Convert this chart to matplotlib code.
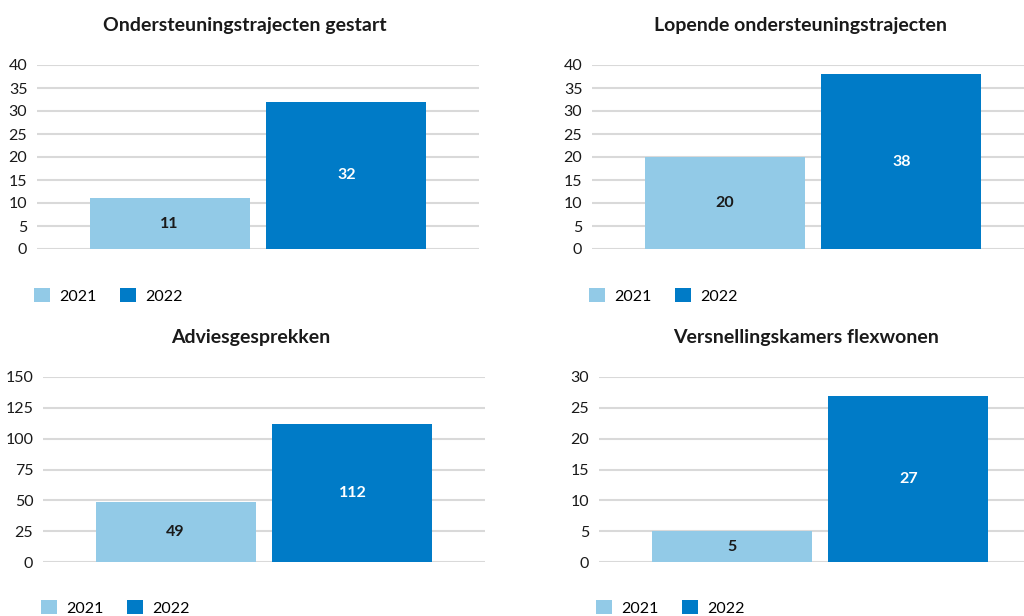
import matplotlib
matplotlib.use("Agg")
import matplotlib.pyplot as plt

# Data per panel
titles = ["Ondersteuningstrajecten gestart", "Lopende ondersteuningstrajecten",
          "Adviesgesprekken", "Versnellingskamers flexwonen"]
years = ["2021", "2022"]
values = [[11, 32], [20, 38], [49, 112], [5, 27]]
yticks = [list(range(0, 41, 5)), list(range(0, 41, 5)),
          list(range(0, 151, 25)), list(range(0, 31, 5))]

colors = ["#92CAE7", "#007BC7"]
label_colors = ["#1a1a1a", "#ffffff"]
grid_color = "#D9D9D9"

plt.rcParams['font.family'] = ['Lato', 'DejaVu Sans']

W, H = 1024, 616
fig = plt.figure(figsize=(W / 100, H / 100), dpi=100)

# pixel layout: (axes left, y of zero line, y of top line, title x, title y, legend x, legend y)
layout = [
    (37, 249, 65, 245, 25, 34, 296),
    (592, 249, 65, 800, 25, 589, 296),
    (43, 562, 377, 251, 337, 41, 608),
    (599, 562, 377, 806, 337, 596, 608),
]
ax_w = 442

for i in range(4):
    left, y0, ytop, tx, ty, lx, ly = layout[i]
    ax = fig.add_axes([left / W, (H - y0) / H, ax_w / W, (y0 - ytop) / H])
    bars = ax.bar([0, 1], values[i], width=0.904, color=colors)
    ax.set_xlim(-0.75, 1.75)
    ax.set_ylim(0, yticks[i][-1])
    ax.set_yticks(yticks[i])
    ax.set_xticks([])
    ax.yaxis.grid(True, color=grid_color, linewidth=1.5)
    ax.set_axisbelow(True)
    for s in ax.spines.values():
        s.set_visible(False)
    ax.tick_params(axis='y', length=0, pad=7, labelsize=11.5, labelcolor="#1a1a1a")
    for b, v, c in zip(bars, values[i], label_colors):
        ax.text(b.get_x() + b.get_width() / 2, v / 2, str(v), ha='center', va='center',
                fontsize=11.5, fontweight='bold', color=c)
    fig.text(tx / W, 1 - ty / H, titles[i], ha='center', va='center',
             fontsize=14, fontweight='bold', color="#1a1a1a")
    ax.legend(bars, years, loc='center left', bbox_to_anchor=(lx / W, 1 - ly / H),
              bbox_transform=fig.transFigure, ncol=2, frameon=False, fontsize=11.5,
              handlelength=1.0, handleheight=1.0, handletextpad=0.55,
              columnspacing=1.5, borderpad=0, borderaxespad=0)

fig.savefig("out.png", dpi=100)
